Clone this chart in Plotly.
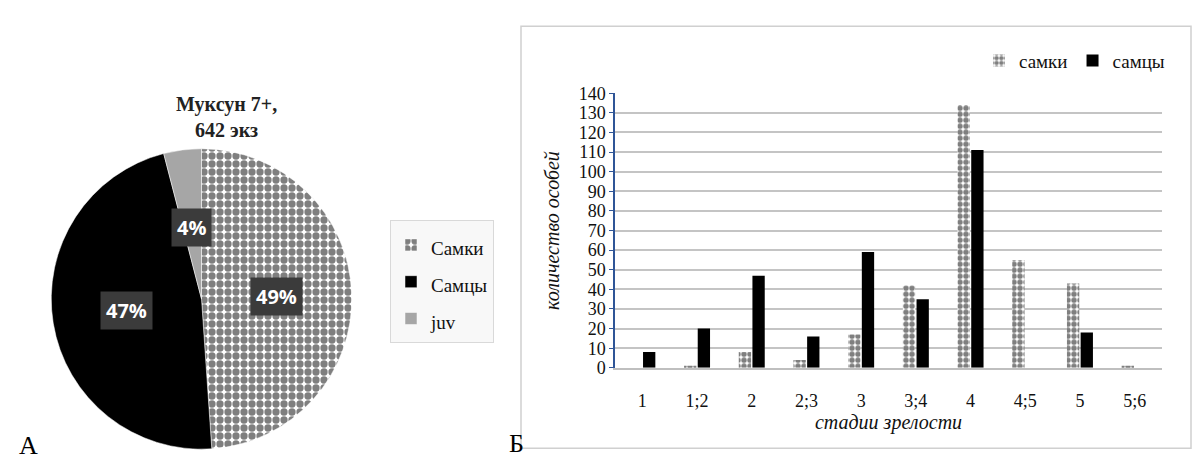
import math
import plotly.graph_objects as go

# ---- data ----
pie_labels = ["Самки", "Самцы", "juv"]
pie_values = [314, 302, 26]
pie_title = "Муксун 7+,<br>642 экз"

stages = ["1", "1;2", "2", "2;3", "3", "3;4", "4", "4;5", "5", "5;6"]
females = [0, 1, 8, 4, 17, 42, 134, 55, 43, 1]
males = [8, 20, 47, 16, 59, 35, 111, 0, 18, 0]
bar_names = ["самки", "самцы"]
y_ticks = list(range(0, 141, 10))

SERIF = "'Liberation Serif', 'Times New Roman', 'DejaVu Serif', serif"
W, H = 1192, 462

fig = go.Figure()

# ---- pie (A) ----
PCX, PCY, PR = 201.5, 302.0, 151.0   # desired centre / radius in px
PRD = PR * 1.04                      # domain half-size (plotly shrinks slightly)
pie_dom_x = [(PCX - PRD) / W, (PCX + PRD) / W]
pie_dom_y = [1 - (PCY + PRD) / H, 1 - (PCY - PRD) / H]
legend_labels = [f"<span style='font-size:19px'>{l}</span>" for l in pie_labels]
fig.add_trace(go.Pie(
    labels=legend_labels, values=pie_values, sort=False, direction="clockwise",
    rotation=0, textinfo="none", hoverinfo="percent",
    domain=dict(x=pie_dom_x, y=pie_dom_y),
    marker=dict(colors=["white", "black", "#a6a6a6"],
                line=dict(color="white", width=0.5),
                pattern=dict(shape=[".", "", ""], fgcolor="black", bgcolor="white",
                             size=8, solidity=0.65, fillmode="overlay")),
    legend="legend", showlegend=True,
))

# percentage labels positioned from the data
total = sum(pie_values)
cum = 0
for v in pie_values:
    mid = (cum + v / 2) / total * 2 * math.pi
    cum += v
    r = 0.5 * PR
    px = PCX + r * math.sin(mid)
    py = PCY - r * math.cos(mid)
    fig.add_annotation(x=px / W, y=1 - py / H, xref="paper", yref="paper",
                       xanchor="center", yanchor="middle",
                       text=f"<b>{round(v / total * 100)}%</b>", showarrow=False,
                       font=dict(family="Open Sans", size=20, color="white"),
                       bgcolor="#3b3b3b", borderpad=5)

fig.add_annotation(x=226 / W, y=1 - 112 / H, xref="paper", yref="paper",
                   xanchor="center", yanchor="middle",
                   text=f"<b>{pie_title}</b>", showarrow=False,
                   font=dict(family=SERIF, size=20, color="#222"))

# ---- bars (Б) ----
fig.add_trace(go.Bar(
    x=stages, y=females, name=bar_names[0], xaxis="x", yaxis="y",
    marker=dict(color="white", line=dict(width=0),
                pattern=dict(shape=".", fgcolor="black", bgcolor="white",
                             size=6, solidity=0.65, fillmode="overlay")),
    legend="legend2",
))
fig.add_trace(go.Bar(
    x=stages, y=males, name=bar_names[1], xaxis="x", yaxis="y",
    marker=dict(color="black", line=dict(width=0)),
    legend="legend2",
))

fig.update_layout(
    width=W, height=H,
    margin=dict(l=0, r=0, t=0, b=0),
    paper_bgcolor="white", plot_bgcolor="white",
    barmode="group", bargap=0.5, bargroupgap=0.1,
    font=dict(family=SERIF, size=18, color="#111"),
    xaxis=dict(domain=[615 / W, 1162 / W], anchor="y",
               showline=True, linecolor="#bfbfbf", linewidth=1.5,
               ticks="", tickfont=dict(family=SERIF, size=18),
               ticklabelstandoff=16,
               title=dict(text="<i>стадии зрелости</i>",
                          font=dict(family=SERIF, size=20), standoff=0)),
    yaxis=dict(domain=[1 - 374 / H, 1 - 87 / H], anchor="x",
               range=[0, 140], tickvals=y_ticks,
               showgrid=True, gridcolor="#c4c4c4", gridwidth=1.5,
               showline=True, linecolor="#2f5597", linewidth=1.5,
               ticks="outside", tickcolor="#2f5597", ticklen=4,
               tickfont=dict(family=SERIF, size=18),
               zeroline=False,
               title=dict(text="<i>количество особей</i>",
                          font=dict(family=SERIF, size=20), standoff=14)),
    legend=dict(x=390 / W, y=1 - 220 / H, xanchor="left", yanchor="top",
                bgcolor="#f8f8f8", bordercolor="#d9d9d9", borderwidth=1,
                font=dict(family=SERIF, size=26), itemwidth=30),
    legend2=dict(orientation="h", x=1170 / W, y=1 - 53 / H,
                 xanchor="right", yanchor="middle",
                 font=dict(family=SERIF, size=19), itemwidth=30,
                 bgcolor="rgba(0,0,0,0)"),
    shapes=[dict(type="rect", xref="paper", yref="paper",
                 x0=521 / W, x1=1191 / W, y0=1 - 458 / H, y1=1 - 17 / H,
                 line=dict(color="#d0d0d0", width=1.5), fillcolor="rgba(0,0,0,0)",
                 layer="below")],
)

fig.add_annotation(x=28 / W, y=1 - 455 / H, xref="paper", yref="paper",
                   xanchor="center", yanchor="middle",
                   text="А", showarrow=False,
                   font=dict(family=SERIF, size=26, color="black"))
fig.add_annotation(x=516 / W, y=1 - 453 / H, xref="paper", yref="paper",
                   xanchor="center", yanchor="middle",
                   text="Б", showarrow=False,
                   font=dict(family=SERIF, size=26, color="black"))

fig.write_html("out.html")
